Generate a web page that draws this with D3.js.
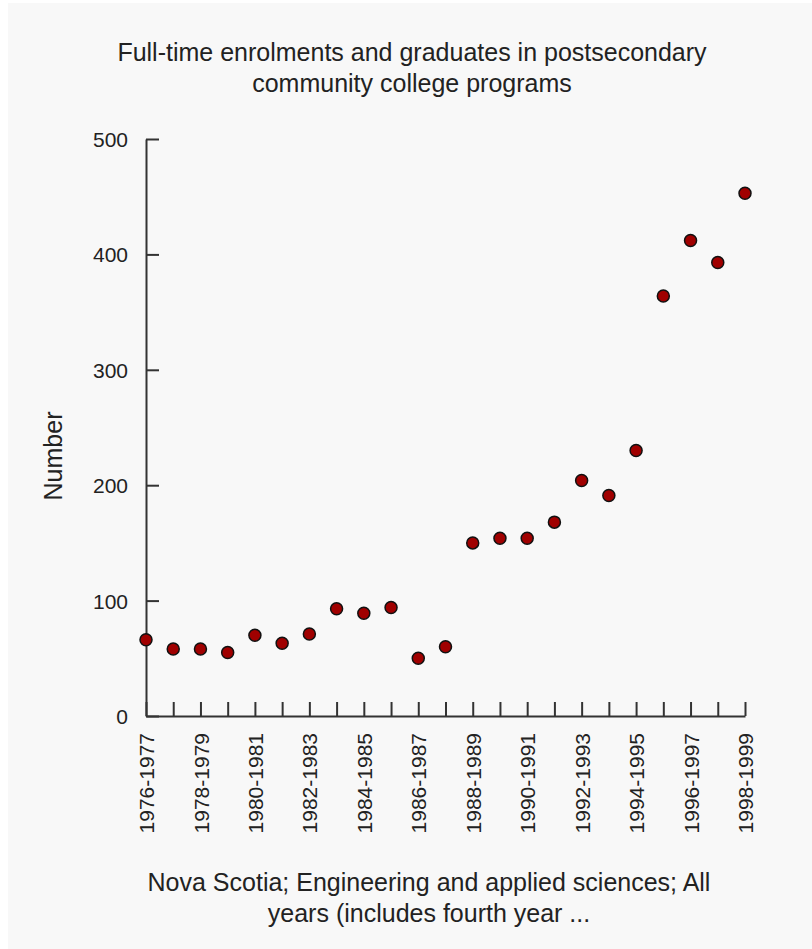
<!DOCTYPE html>
<html>
<head>
    <script src="https://d3js.org/d3.v7.min.js"></script>
    <style>
        body { margin: 0; background: #fff; font-family: "Liberation Sans", Arial, sans-serif; }
        .dot { fill: #a00000; stroke: #111; stroke-width: 1.5px; }
        .axis path, .axis line { stroke: #333; stroke-width: 2px; }
        .axis text { font-family: "Liberation Sans", Arial, sans-serif; font-size: 21px; fill: #222; }
        .label { font-size: 25px; fill: #222; }
    </style>
</head>
<body>
    <svg width="812" height="949"></svg>
    <script>
        // Academic years on the x axis
        const years = [
            "1976-1977", "1977-1978", "1978-1979", "1979-1980", "1980-1981", "1981-1982",
            "1982-1983", "1983-1984", "1984-1985", "1985-1986", "1986-1987", "1987-1988",
            "1988-1989", "1989-1990", "1990-1991", "1991-1992", "1992-1993", "1993-1994",
            "1994-1995", "1995-1996", "1996-1997", "1997-1998", "1998-1999"
        ];

        // Number of enrolments/graduates
        const counts = [66, 58, 58, 55, 70, 63, 71, 93, 89, 94, 50, 60,
                        150, 154, 154, 168, 204, 191, 230, 364, 412, 393, 453];

        const yTicks = [0, 100, 200, 300, 400, 500];

        const titleLines = ["Full-time enrolments and graduates in postsecondary",
                            "community college programs"];
        const footerLines = ["Nova Scotia; Engineering and applied sciences; All",
                             "years (includes fourth year ..."];

        const svg = d3.select("svg");

        // light grey panel with a thin white edge top/left
        svg.append("rect")
            .attr("x", 8).attr("y", 3)
            .attr("width", 812).attr("height", 949)
            .attr("fill", "#f8f8f8");

        const x = d3.scalePoint().domain(years).range([146, 745]);
        const y = d3.scaleLinear().domain([0, 500]).range([716, 139]);

        // y axis, ticks pointing into the plot
        svg.append("g")
            .attr("class", "axis")
            .attr("transform", "translate(146,0)")
            .call(d3.axisLeft(y).tickValues(yTicks).tickSizeInner(-13).tickSizeOuter(0).tickPadding(18))
            .selectAll("text").attr("dy", "0.36em");

        // x axis, ticks pointing up, a label on every second year
        const xAxis = svg.append("g")
            .attr("class", "axis")
            .attr("transform", "translate(0,716)")
            .call(d3.axisBottom(x)
                .tickSizeInner(-14).tickSizeOuter(0)
                .tickFormat((d, i) => i % 2 === 0 ? d : ""));

        xAxis.selectAll("text")
            .attr("transform", "rotate(-90)")
            .attr("text-anchor", "end")
            .attr("x", -17)
            .attr("y", 0)
            .attr("dy", "0.36em");

        // the points
        svg.selectAll(".dot")
            .data(counts)
            .enter()
            .append("circle")
            .attr("class", "dot")
            .attr("r", 6)
            .attr("cx", (d, i) => x(years[i]))
            .attr("cy", d => y(d));

        // title
        svg.append("text")
            .attr("class", "label")
            .attr("text-anchor", "middle")
            .selectAll("tspan")
            .data(titleLines)
            .enter()
            .append("tspan")
            .attr("x", 412)
            .attr("y", (d, i) => 61 + i * 31)
            .text(d => d);

        // axis title
        svg.append("text")
            .attr("class", "label")
            .attr("text-anchor", "middle")
            .attr("transform", "translate(62,456) rotate(-90)")
            .text("Number");

        // footer / x axis title
        svg.append("text")
            .attr("class", "label")
            .attr("text-anchor", "middle")
            .selectAll("tspan")
            .data(footerLines)
            .enter()
            .append("tspan")
            .attr("x", 429)
            .attr("y", (d, i) => 891 + i * 31)
            .text(d => d);
    </script>
</body>
</html>
